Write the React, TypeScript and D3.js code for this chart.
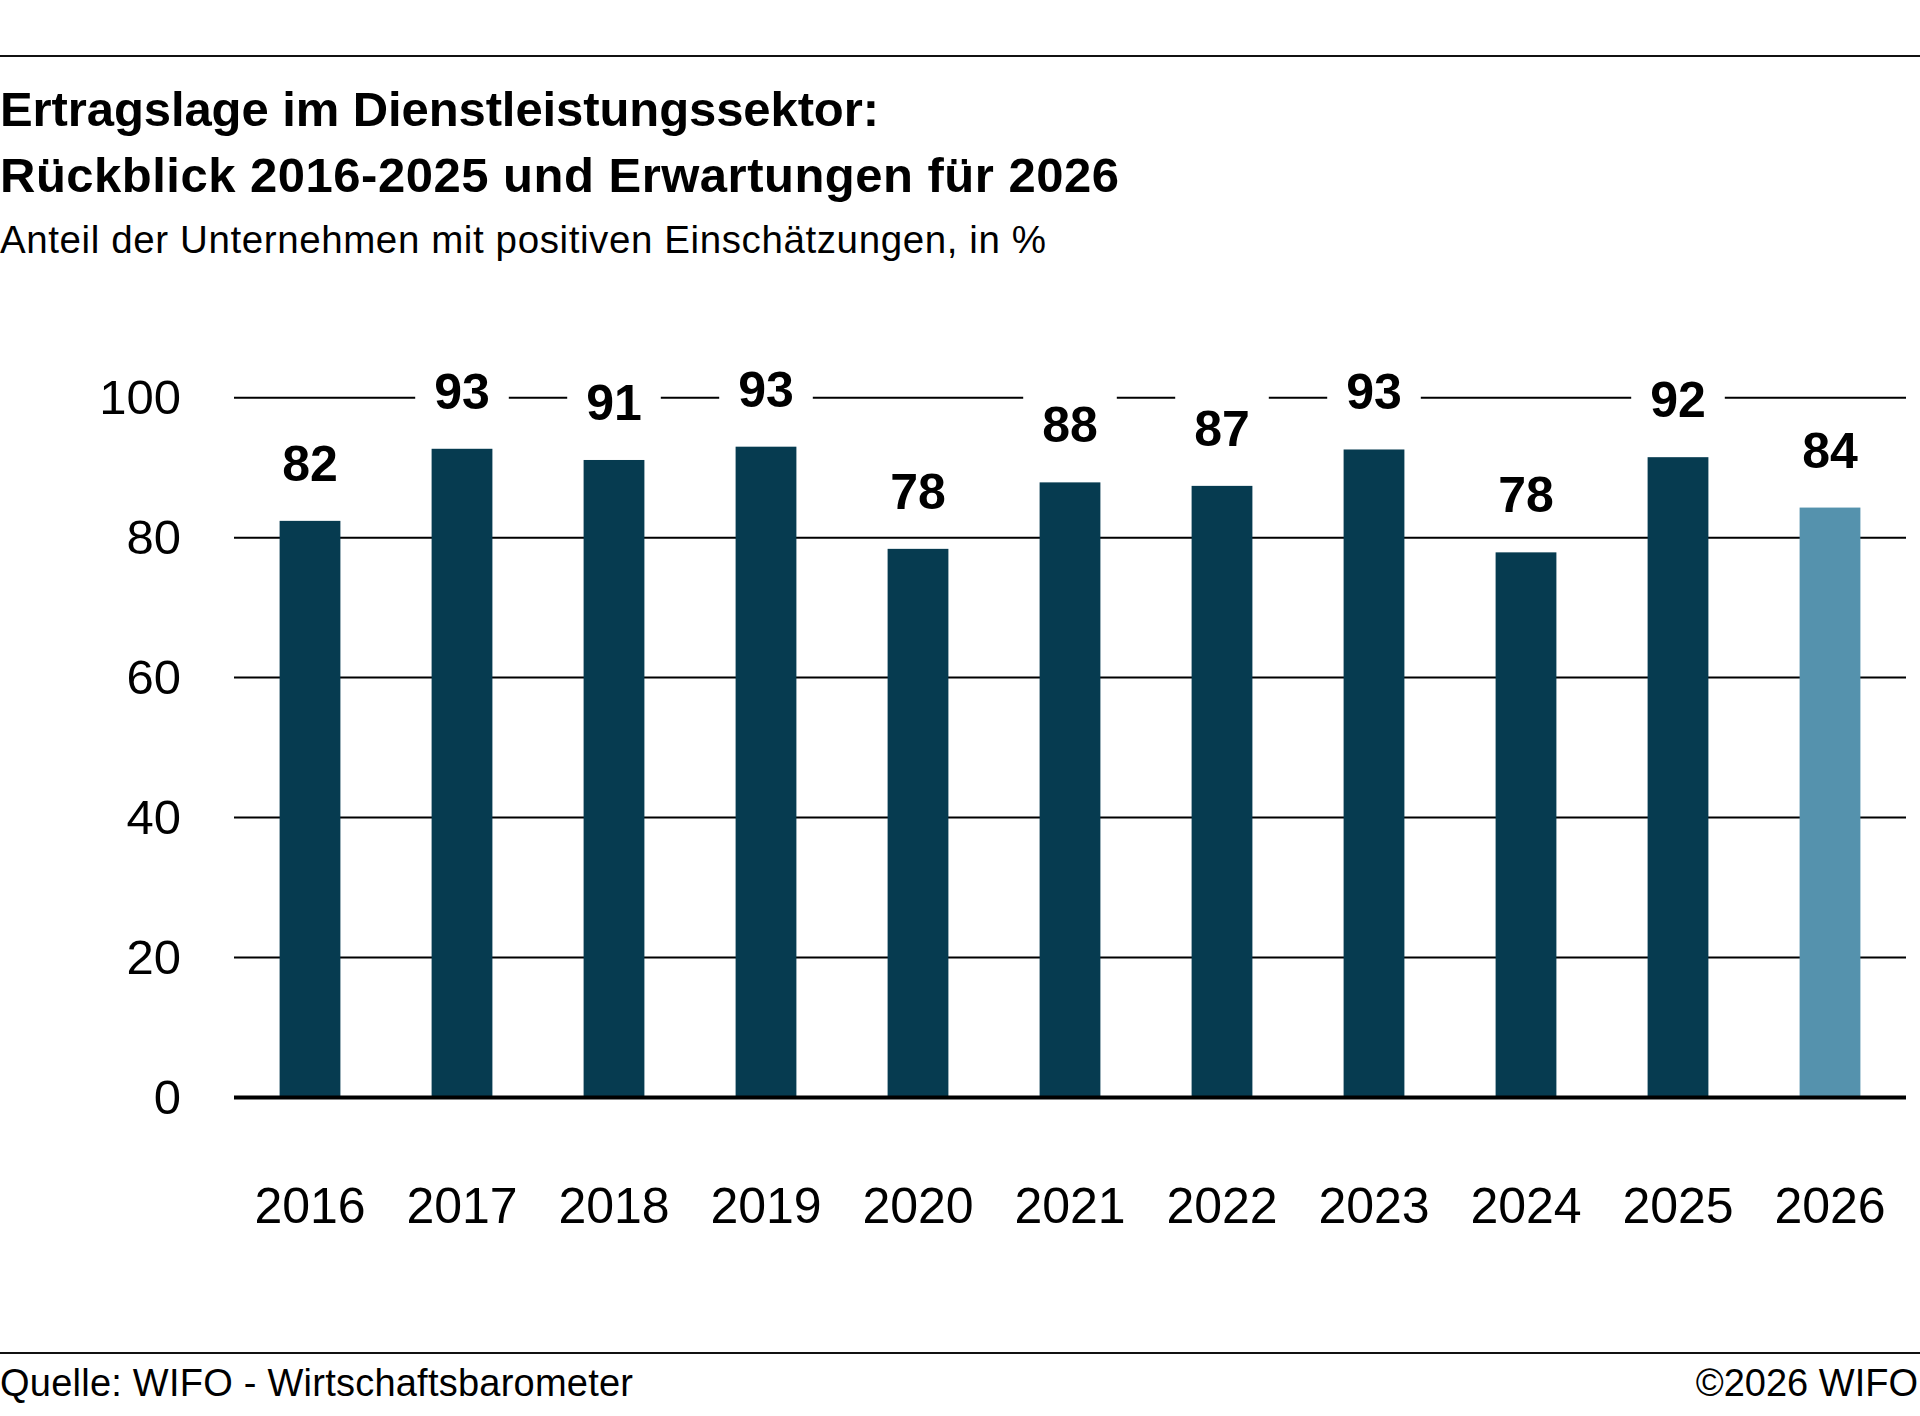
import * as d3 from "d3";

const years = ["2016", "2017", "2018", "2019", "2020", "2021", "2022", "2023", "2024", "2025", "2026"];
const shares = [82.4, 92.7, 91.1, 93.0, 78.4, 87.9, 87.4, 92.6, 77.9, 91.5, 84.3];
const forecastYears = ["2026"];
const yTicks = [0, 20, 40, 60, 80, 100];

const titleLines = [
  "Ertragslage im Dienstleistungssektor:",
  "Rückblick 2016-2025 und Erwartungen für 2026",
];
const subtitle = "Anteil der Unternehmen mit positiven Einschätzungen, in %";
const source = "Quelle: WIFO - Wirtschaftsbarometer";
const copyright = "©2026 WIFO";

const W = 1920;
const H = 1416;
const FONT = "'Liberation Sans', Arial, Helvetica, sans-serif";
const DARK = "#063b50";
const LIGHT = "#5592ad";

export default function App() {
  const x = d3.scaleBand<string>()
    .domain(years)
    .range([234, 1906])
    .paddingInner(0.6)
    .paddingOuter(0.3);

  const y = d3.scaleLinear().domain([0, 100]).range([1097.5, 397.7]);
  const fmt = d3.format(".0f");

  const labelSize = 50;
  // widths of the header/footer texts as set in the original
  const titleWidths = [879, 1119];

  return (
    <div style={{ position: "absolute", left: 0, top: 0 }}>
      <svg width={W} height={H} viewBox={`0 0 ${W} ${H}`} style={{ display: "block", background: "#fff" }}>
        <rect width={W} height={H} fill="#fff" />

        {/* header */}
        <line x1={0} x2={W} y1={56} y2={56} stroke="#111" strokeWidth={2} />
        {titleLines.map((t, i) => (
          <text
            key={t}
            x={0}
            y={126 + i * 66}
            fontFamily={FONT}
            fontWeight="bold"
            fontSize={49}
            fill="#000"
            textLength={titleWidths[i]}
            lengthAdjust="spacing"
          >
            {t}
          </text>
        ))}
        <text x={0} y={253} fontFamily={FONT} fontSize={38.5} fill="#000" textLength={1046} lengthAdjust="spacing">
          {subtitle}
        </text>

        {/* gridlines */}
        {yTicks.filter((t) => t > 0).map((t) => (
          <line key={t} x1={234} x2={1906} y1={y(t)} y2={y(t)} stroke="#000" strokeWidth={2} />
        ))}

        {/* y tick labels */}
        {yTicks.map((t) => (
          <text
            key={t}
            x={181}
            y={y(t)}
            dy="0.34em"
            textAnchor="end"
            fontFamily={FONT}
            fontSize={49}
            fill="#000"
          >
            {t}
          </text>
        ))}

        {/* bars */}
        {years.map((yr, i) => (
          <rect
            key={yr}
            x={x(yr)}
            y={y(shares[i])}
            width={x.bandwidth()}
            height={y(0) - y(shares[i])}
            fill={forecastYears.includes(yr) ? LIGHT : DARK}
          />
        ))}

        {/* baseline */}
        <line x1={234} x2={1906} y1={y(0)} y2={y(0)} stroke="#000" strokeWidth={4} />

        {/* value labels with white boxes */}
        {years.map((yr, i) => {
          const cx = (x(yr) ?? 0) + x.bandwidth() / 2;
          const base = y(shares[i]) - 40;
          const txt = fmt(shares[i]);
          const tw = txt.length * 0.556 * labelSize;
          return (
            <g key={yr}>
              <rect x={cx - tw / 2 - 19} y={base - 50} width={tw + 38} height={62} fill="#fff" />
              <text x={cx} y={base} textAnchor="middle" fontFamily={FONT} fontWeight="bold" fontSize={labelSize} fill="#000">
                {txt}
              </text>
            </g>
          );
        })}

        {/* x labels */}
        {years.map((yr) => (
          <text
            key={yr}
            x={(x(yr) ?? 0) + x.bandwidth() / 2}
            y={1223}
            textAnchor="middle"
            fontFamily={FONT}
            fontSize={50}
            fill="#000"
          >
            {yr}
          </text>
        ))}

        {/* footer */}
        <line x1={0} x2={W} y1={1353} y2={1353} stroke="#111" strokeWidth={2} />
        <text x={0} y={1396} fontFamily={FONT} fontSize={38} fill="#000" textLength={633} lengthAdjust="spacing">
          {source}
        </text>
        <text x={1918} y={1396} textAnchor="end" fontFamily={FONT} fontSize={38} fill="#000">
          {copyright}
        </text>
      </svg>
    </div>
  );
}
